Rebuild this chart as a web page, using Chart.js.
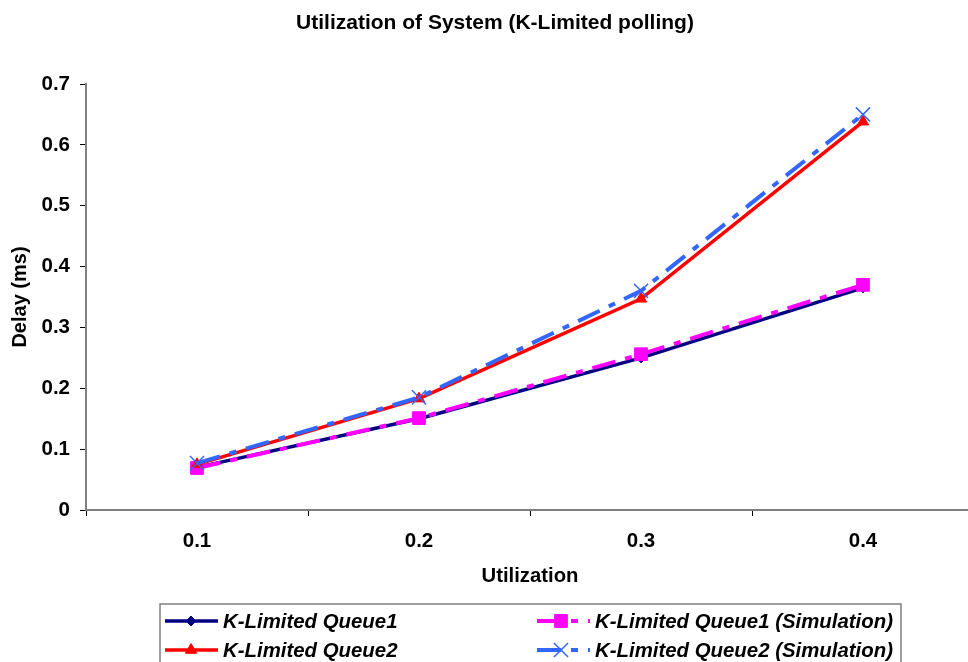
<!DOCTYPE html>
<html>
<head>
<meta charset="utf-8">
<script src="https://cdn.jsdelivr.net/npm/chart.js@4/dist/chart.umd.min.js"></script>
<style>
  html, body { margin: 0; padding: 0; background: #fff; overflow: hidden; }
  #wrap { width: 968px; height: 662px; overflow: hidden; }
  canvas { display: block; }
</style>
</head>
<body>
<div id="wrap"><canvas id="c" width="990" height="662"></canvas></div>
<script>
// Utilization levels on the x axis
const utilization = ['0.1', '0.2', '0.3', '0.4'];
// Delay (ms), analytical model
const queue1 = [0.070, 0.150, 0.250, 0.365];
const queue2 = [0.075, 0.183, 0.347, 0.638];
// Delay (ms), simulation
const queue1Sim = [0.069, 0.151, 0.256, 0.370];
const queue2Sim = [0.077, 0.185, 0.360, 0.650];
// Y axis tick labels
const yTickLabels = ['0', '0.1', '0.2', '0.3', '0.4', '0.5', '0.6', '0.7'];

const seriesNames = [
  'K-Limited Queue1',
  'K-Limited Queue2',
  'K-Limited Queue1 (Simulation)',
  'K-Limited Queue2 (Simulation)'
];

const FONT = '"Liberation Sans", Arial, sans-serif';
const dashPattern = [24, 10, 7, 10];

const datasets = [
  {
    label: seriesNames[0], data: queue1, order: 4,
    borderColor: '#000080', backgroundColor: '#000080', borderWidth: 3.5,
    pointStyle: 'rectRot', pointRadius: 5, pointBorderWidth: 1,
    pointBackgroundColor: '#000080', pointBorderColor: '#000080',
    legendCol: 0, legendRow: 0
  },
  {
    label: seriesNames[1], data: queue2, order: 2,
    borderColor: '#FF0000', backgroundColor: '#FF0000', borderWidth: 3.5,
    pointStyle: 'triangle', pointRadius: 6.5, pointBorderWidth: 1,
    pointBackgroundColor: '#FF0000', pointBorderColor: '#FF0000',
    legendCol: 0, legendRow: 1
  },
  {
    label: seriesNames[2], data: queue1Sim, order: 3,
    borderColor: '#FF00FF', backgroundColor: '#FF00FF', borderWidth: 4,
    borderDash: dashPattern,
    pointStyle: 'rect', pointRadius: 9, pointBorderWidth: 1,
    pointBackgroundColor: '#FF00FF', pointBorderColor: '#FF00FF',
    legendCol: 1, legendRow: 0
  },
  {
    label: seriesNames[3], data: queue2Sim, order: 1,
    borderColor: '#3366FF', backgroundColor: '#3366FF', borderWidth: 4,
    borderDash: dashPattern,
    pointStyle: 'crossRot', pointRadius: 10, pointBorderWidth: 1.5,
    pointBackgroundColor: '#3366FF', pointBorderColor: '#3366FF',
    legendCol: 1, legendRow: 1
  }
];

// Boxed two-column legend under the x axis title
const boxedLegend = {
  id: 'boxedLegend',
  afterDraw(chart, args, opts) {
    const ctx = chart.ctx;
    ctx.save();
    ctx.strokeStyle = opts.borderColor;
    ctx.lineWidth = opts.borderWidth;
    ctx.strokeRect(opts.left, opts.top, opts.right - opts.left, opts.height);
    ctx.font = opts.font;
    ctx.textBaseline = 'middle';
    ctx.textAlign = 'left';
    chart.data.datasets.forEach((ds) => {
      const x0 = opts.colX[ds.legendCol];
      const y = opts.rowY[ds.legendRow];
      const x1 = x0 + opts.sampleLength;
      ctx.save();
      ctx.strokeStyle = ds.borderColor;
      ctx.lineWidth = ds.borderWidth;
      ctx.setLineDash(ds.borderDash || []);
      ctx.beginPath();
      ctx.moveTo(x0, y);
      ctx.lineTo(x1, y);
      ctx.stroke();
      ctx.restore();
      ctx.save();
      ctx.fillStyle = ds.pointBackgroundColor;
      ctx.strokeStyle = ds.pointBorderColor;
      ctx.lineWidth = ds.pointBorderWidth;
      Chart.helpers.drawPoint(ctx, {
        pointStyle: ds.pointStyle, radius: ds.pointRadius, rotation: 0, borderWidth: ds.pointBorderWidth
      }, opts.colMarker[ds.legendCol], y);
      ctx.restore();
      ctx.fillStyle = '#000';
      ctx.fillText(ds.label, x1 + opts.textGap, y + 1);
    });
    ctx.restore();
  }
};

new Chart(document.getElementById('c'), {
  type: 'line',
  data: { labels: utilization, datasets },
  plugins: [boxedLegend],
  options: {
    responsive: false,
    animation: false,
    devicePixelRatio: 1,
    layout: { padding: { top: 0, right: 16, bottom: 0, left: 16 } },
    elements: { line: { tension: 0, borderCapStyle: 'butt', borderJoinStyle: 'miter' } },
    plugins: {
      legend: { display: false },
      tooltip: { enabled: false },
      title: {
        display: true,
        text: 'Utilization of System (K-Limited polling)',
        color: '#000',
        font: { family: FONT, size: 21, weight: 'bold', lineHeight: 1.2 },
        padding: { top: 11, bottom: 47.8 }
      },
      boxedLegend: {
        left: 160, top: 604, right: 901, height: 80,
        borderColor: '#808080', borderWidth: 1.5,
        colX: [165, 537], colMarker: [191, 561], rowY: [621, 650],
        sampleLength: 53, textGap: 5,
        font: 'italic bold 20.4px ' + FONT
      }
    },
    scales: {
      x: {
        type: 'category',
        offset: true,
        afterFit(scale) { scale.height = 152; },
        grid: { offset: true, drawOnChartArea: false, drawTicks: true, tickLength: 6, color: '#000', lineWidth: 1 },
        border: { display: true, color: '#808080', width: 2 },
        ticks: { color: '#000', font: { family: FONT, size: 20.5, weight: 'bold' }, padding: 13, maxRotation: 0 },
        title: {
          display: true, text: 'Utilization', color: '#000',
          font: { family: FONT, size: 20.3, weight: 'bold', lineHeight: 1.2 },
          padding: { top: 0, bottom: 73.8 }
        }
      },
      y: {
        type: 'linear',
        min: 0, max: 0.7,
        afterFit(scale) { scale.width = 70; },
        grid: { drawOnChartArea: false, drawTicks: true, tickLength: 6, color: '#000', lineWidth: 1 },
        border: { display: true, color: '#808080', width: 2 },
        ticks: {
          stepSize: 0.1, padding: 10, color: '#000',
          font: { family: FONT, size: 20.5, weight: 'bold' },
          callback: (v, i) => yTickLabels[i]
        },
        title: {
          display: true, text: 'Delay (ms)', color: '#000',
          font: { family: FONT, size: 20, weight: 'bold', lineHeight: 1.2 },
          padding: { top: -8, bottom: 0 }
        }
      }
    }
  }
});
</script>
</body>
</html>
